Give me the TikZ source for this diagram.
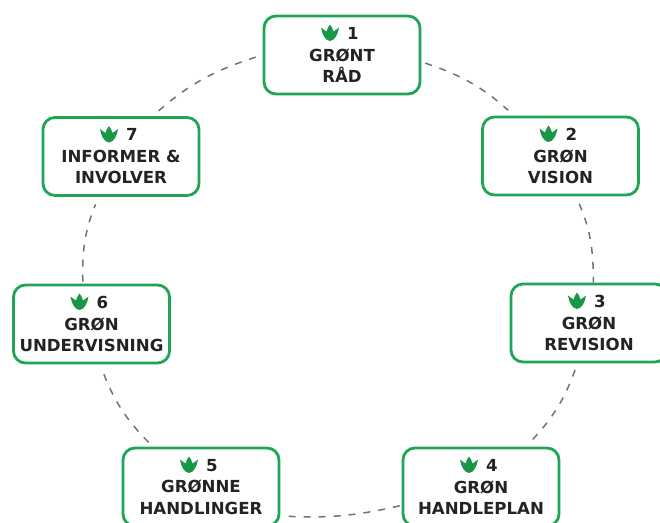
\documentclass[tikz,border=0pt]{standalone}
\usepackage{fontspec}
\setmainfont{DejaVu Sans}
\definecolor{frameg}{RGB}{30,165,85}
\definecolor{pawg}{RGB}{25,150,70}
\definecolor{inkc}{RGB}{35,35,35}
\definecolor{dashc}{RGB}{115,115,115}
\tikzset{
  stepbox/.style={draw=frameg,line width=2.8pt,rounded corners=12pt,fill=white,minimum width=156pt,minimum height=78pt,inner sep=0pt,align=center,text=inkc,font=\fontsize{16.6}{21.5}\selectfont\bfseries},
  linker/.style={draw=dashc,line width=1.5pt,dash pattern=on 7pt off 8pt},
  paw/.pic={\fill[pawg] (-9,-5.5) .. controls (-6.5,-3.5) and (-5,-2.5) .. (-3.5,-1.5) .. controls (-3,-4) and (-1.5,-6.5) .. (0,-8.5) .. controls (1.5,-6.5) and (3,-4) .. (3.5,-1.5) .. controls (5,-2.5) and (6.5,-3.5) .. (9,-5.5) .. controls (8,1) and (5,7.5) .. (0,8) .. controls (-5,7.5) and (-8,1) .. (-9,-5.5) -- cycle;}
}
\begin{document}
\begin{tikzpicture}[x=1pt,y=-1pt]
\useasboundingbox (0,0) rectangle (660,522);
\clip (0,0) rectangle (660,522);
\node[stepbox] (n1) at (342,55) {\hspace*{22pt}1\\GRØNT\\RÅD};
\node[stepbox] (n2) at (560.5,156) {\hspace*{22pt}2\\GRØN\\VISION};
\node[stepbox] (n3) at (589,323) {\hspace*{22pt}3\\GRØN\\REVISION};
\node[stepbox] (n4) at (481,487) {\hspace*{22pt}4\\GRØN\\HANDLEPLAN};
\node[stepbox] (n5) at (201,487) {\hspace*{22pt}5\\GRØNNE\\HANDLINGER};
\node[stepbox] (n6) at (91.5,324) {\hspace*{22pt}6\\GRØN\\UNDERVISNING};
\node[stepbox] (n7) at (121,156.5) {\hspace*{22pt}7\\INFORMER \&\\INVOLVER};
\foreach \n in {n1,n2,n3,n4,n5,n6,n7}
  \pic at ([xshift=-12pt,yshift=22pt]\n) {paw};
\draw[linker,shorten <=4pt,shorten >=8pt] (n1.-5) to[bend left=12] (n2.139);
\draw[linker,shorten <=8pt,shorten >=0pt] (n2.-69) to[bend left=12] (n3.84);
\draw[linker,shorten <=7pt,shorten >=6pt] (n3.-106) to[bend left=12] (n4.42);
\draw[linker,shorten <=2pt,shorten >=4pt] (n4.-167) to[bend left=8] (n5.-20);
\draw[linker,shorten <=6pt,shorten >=6pt] (n5.140) to[bend left=12] (n6.-78);
\draw[linker,shorten <=2pt,shorten >=8pt] (n6.102) to[bend left=12] (n7.-119);
\draw[linker,shorten <=8pt,shorten >=1pt] (n7.52) to[bend left=12] (n1.180);
\end{tikzpicture}
\end{document}
